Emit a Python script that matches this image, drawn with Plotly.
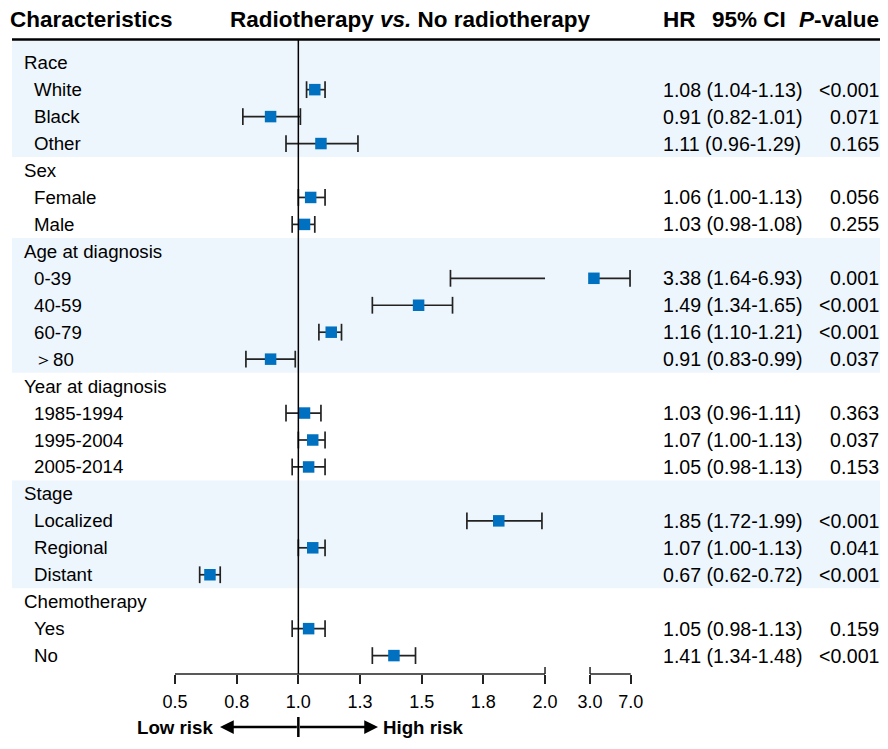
import numpy as np
import plotly.graph_objects as go

# ---------------- data ----------------
GROUPS = ["Race", "Sex", "Age at diagnosis", "Year at diagnosis", "Stage", "Chemotherapy"]
SUBGROUPS = [
    ["White", "Black", "Other"],
    ["Female", "Male"],
    ["0-39", "40-59", "60-79", "\uff1e80"],
    ["1985-1994", "1995-2004", "2005-2014"],
    ["Localized", "Regional", "Distant"],
    ["Yes", "No"],
]
HR = [1.08, 0.91, 1.11, 1.06, 1.03, 3.38, 1.49, 1.16, 0.91, 1.03, 1.07, 1.05, 1.85, 1.07, 0.67, 1.05, 1.41]
CI_LOW = [1.04, 0.82, 0.96, 1.00, 0.98, 1.64, 1.34, 1.10, 0.83, 0.96, 1.00, 0.98, 1.72, 1.00, 0.62, 0.98, 1.34]
CI_HIGH = [1.13, 1.01, 1.29, 1.13, 1.08, 6.93, 1.65, 1.21, 0.99, 1.11, 1.13, 1.13, 1.99, 1.13, 0.72, 1.13, 1.48]
P_VALUES = ["<0.001", "0.071", "0.165", "0.056", "0.255", "0.001", "<0.001", "<0.001", "0.037",
            "0.363", "0.037", "0.153", "<0.001", "0.041", "<0.001", "0.159", "<0.001"]
SHADED_GROUPS = [0, 2, 4]
TICK_VALUES = [0.5, 0.8, 1.0, 1.3, 1.5, 1.8, 2.0, 3.0, 7.0]
TICK_LABELS = ["0.5", "0.8", "1.0", "1.3", "1.5", "1.8", "2.0", "3.0", "7.0"]
BREAK = (2.0, 3.0)
REF_VALUE = 1.0

# ---------------- layout constants ----------------
OFF = 8                           # page body margin
W, H = 888 - 2 * OFF, 749 - 2 * OFF   # figure size (fits the visible window)
AXIS_Y = 674                      # page px of the x axis
PLOT_H = AXIS_Y - OFF             # plot-area height in figure px
UNIT = 61.67                      # px per tick step
ORIGIN = 175.0 - OFF              # figure px of first tick
TICK_POS = [0, 1, 2, 3, 4, 5, 6, 6.73, 7.39]   # axis-space positions of the ticks (broken scale)
ROW0, ROW_STEP = 62.7 - OFF, 26.95

FONT = "Arial, Liberation Sans, sans-serif"
BLUE = "#0070C0"
LINE = "#222222"
BAND = "#EEF6FD"


def xpos(v):
    return np.interp(v, TICK_VALUES, TICK_POS)


def px(x):          # page px -> paper x
    return (x - OFF) / W


def py(y):          # page px -> paper y
    return (AXIS_Y - y) / PLOT_H


# ---------------- rows ----------------
row_labels, row_is_header, row_group = [], [], []
for g, (grp, subs) in enumerate(zip(GROUPS, SUBGROUPS)):
    row_labels.append(grp); row_is_header.append(True); row_group.append(g)
    for s in subs:
        row_labels.append(s); row_is_header.append(False); row_group.append(g)
sub_rows = [i for i, h in enumerate(row_is_header) if not h]

fig = go.Figure()

# CI lines (broken at the axis break)
lx, ly = [], []
for r, lo, hi in zip(sub_rows, CI_LOW, CI_HIGH):
    if lo < BREAK[0] and hi > BREAK[1]:
        pieces = [(lo, BREAK[0]), (BREAK[1], hi)]
    else:
        pieces = [(lo, hi)]
    for a, b in pieces:
        lx += [xpos(a), xpos(b), None]
        ly += [r, r, None]
fig.add_trace(go.Scatter(x=lx, y=ly, mode="lines", line=dict(color=LINE, width=1.7),
                         hoverinfo="skip", showlegend=False))
# caps
fig.add_trace(go.Scatter(x=list(xpos(CI_LOW)) + list(xpos(CI_HIGH)), y=sub_rows + sub_rows,
                         mode="markers",
                         marker=dict(symbol="line-ns", size=12, line=dict(width=1.7, color=LINE)),
                         hoverinfo="skip", showlegend=False))
# point estimates
fig.add_trace(go.Scatter(x=xpos(HR), y=sub_rows, mode="markers",
                         marker=dict(symbol="square", size=11.5, color=BLUE, line=dict(width=0)),
                         showlegend=False))

shapes = []
# shaded bands
for g in SHADED_GROUPS:
    rows = [i for i, rg in enumerate(row_group) if rg == g]
    top = rows[0] - 0.5 if g != 0 else (41 - OFF - ROW0) / ROW_STEP
    shapes.append(dict(type="rect", xref="paper", yref="y", x0=px(12), x1=1,
                       y0=top, y1=rows[-1] + 0.5, fillcolor=BAND, line=dict(width=0), layer="below"))
# header line
shapes.append(dict(type="line", xref="paper", yref="paper", x0=px(12), x1=1,
                   y0=py(39.5), y1=py(39.5), line=dict(color="black", width=2.5)))
# reference line
shapes.append(dict(type="line", xref="x", yref="paper", x0=xpos(REF_VALUE), x1=xpos(REF_VALUE),
                   y0=0, y1=py(40), line=dict(color="black", width=1.5)))
# axis line segments
shapes.append(dict(type="line", xref="x", yref="paper", x0=xpos(TICK_VALUES[0]), x1=xpos(BREAK[0]),
                   y0=0, y1=0, line=dict(color=LINE, width=1.5)))
shapes.append(dict(type="line", xref="x", yref="paper", x0=xpos(BREAK[1]), x1=xpos(TICK_VALUES[-1]),
                   y0=0, y1=0, line=dict(color=LINE, width=1.5)))
for b in BREAK:
    shapes.append(dict(type="line", xref="x", yref="paper", x0=xpos(b), x1=xpos(b),
                       y0=0, y1=py(AXIS_Y - 7), line=dict(color=LINE, width=1.5)))
# arrow centre tick
shapes.append(dict(type="line", xref="x", yref="paper", x0=xpos(REF_VALUE), x1=xpos(REF_VALUE),
                   y0=py(717), y1=py(737), line=dict(color="black", width=2.5)))

ann = []
HDR_Y = py(19)
# header
ann.append(dict(text="<b>Characteristics</b>", x=px(8), y=HDR_Y,
                xanchor="left", yanchor="middle", font=dict(size=22.5)))
ann.append(dict(text="<b>Radiotherapy <i>vs.</i> No radiotherapy</b>", x=px(410),
                y=HDR_Y, xanchor="center", yanchor="middle", font=dict(size=22.5)))
ann.append(dict(text="<b>HR</b>", x=px(661), y=HDR_Y,
                xanchor="left", yanchor="middle", font=dict(size=22.5)))
ann.append(dict(text="<b>95% CI</b>", x=px(788), y=HDR_Y,
                xanchor="right", yanchor="middle", font=dict(size=22.5)))
ann.append(dict(text="<b><i>P</i>-value</b>", x=px(881), y=HDR_Y,
                xanchor="right", yanchor="middle", font=dict(size=22.5)))
# row labels
for i, (lab, hdr) in enumerate(zip(row_labels, row_is_header)):
    ann.append(dict(text=lab, xref="paper", yref="y", x=px(22 if hdr else 32), y=i,
                    xanchor="left", yanchor="middle", font=dict(size=18.7)))
# HR / CI / P text
for r, hr, lo, hi, p in zip(sub_rows, HR, CI_LOW, CI_HIGH, P_VALUES):
    ann.append(dict(text=f"{hr:.2f} ({lo:.2f}-{hi:.2f})", xref="paper", yref="y",
                    x=px(661), y=r, xanchor="left", yanchor="middle", font=dict(size=19.6)))
    ann.append(dict(text=p, xref="paper", yref="y", x=px(881), y=r,
                    xanchor="right", yanchor="middle", font=dict(size=19.6)))
# risk arrows
ay = py(727)
for tip in [(220 - OFF - ORIGIN) / UNIT, (378 - OFF - ORIGIN) / UNIT]:
    ann.append(dict(text="", xref="x", yref="paper", axref="x", ayref="pixel",
                    x=tip, y=ay, ax=xpos(REF_VALUE), ay=0, showarrow=True,
                    arrowhead=2, arrowsize=1.1, arrowwidth=2.5, arrowcolor="black"))
ann.append(dict(text="<b>Low risk</b>", x=px(215), y=ay, xanchor="right",
                yanchor="middle", font=dict(size=18.7)))
ann.append(dict(text="<b>High risk</b>", x=px(381), y=ay, xanchor="left",
                yanchor="middle", font=dict(size=18.7)))
for a in ann:
    a.setdefault("xref", "paper")
    a.setdefault("yref", "paper")
    a.setdefault("showarrow", False)

fig.update_layout(
    width=W, height=H,
    margin=dict(l=0, r=0, t=0, b=H - PLOT_H, pad=0),
    paper_bgcolor="white", plot_bgcolor="rgba(0,0,0,0)",
    font=dict(family=FONT, color="black", size=18),
    shapes=shapes, annotations=ann,
    xaxis=dict(range=[-ORIGIN / UNIT, (W - ORIGIN) / UNIT], tickvals=TICK_POS, ticktext=TICK_LABELS,
               ticks="outside", ticklen=9, tickwidth=1.5, tickcolor=LINE, showline=False,
               showgrid=False, zeroline=False, tickfont=dict(size=18), fixedrange=True,
               ticklabelstandoff=2),
    yaxis=dict(range=[(PLOT_H - ROW0) / ROW_STEP, -ROW0 / ROW_STEP], visible=False,
               showgrid=False, zeroline=False, fixedrange=True),
)

fig.write_html("out.html")
